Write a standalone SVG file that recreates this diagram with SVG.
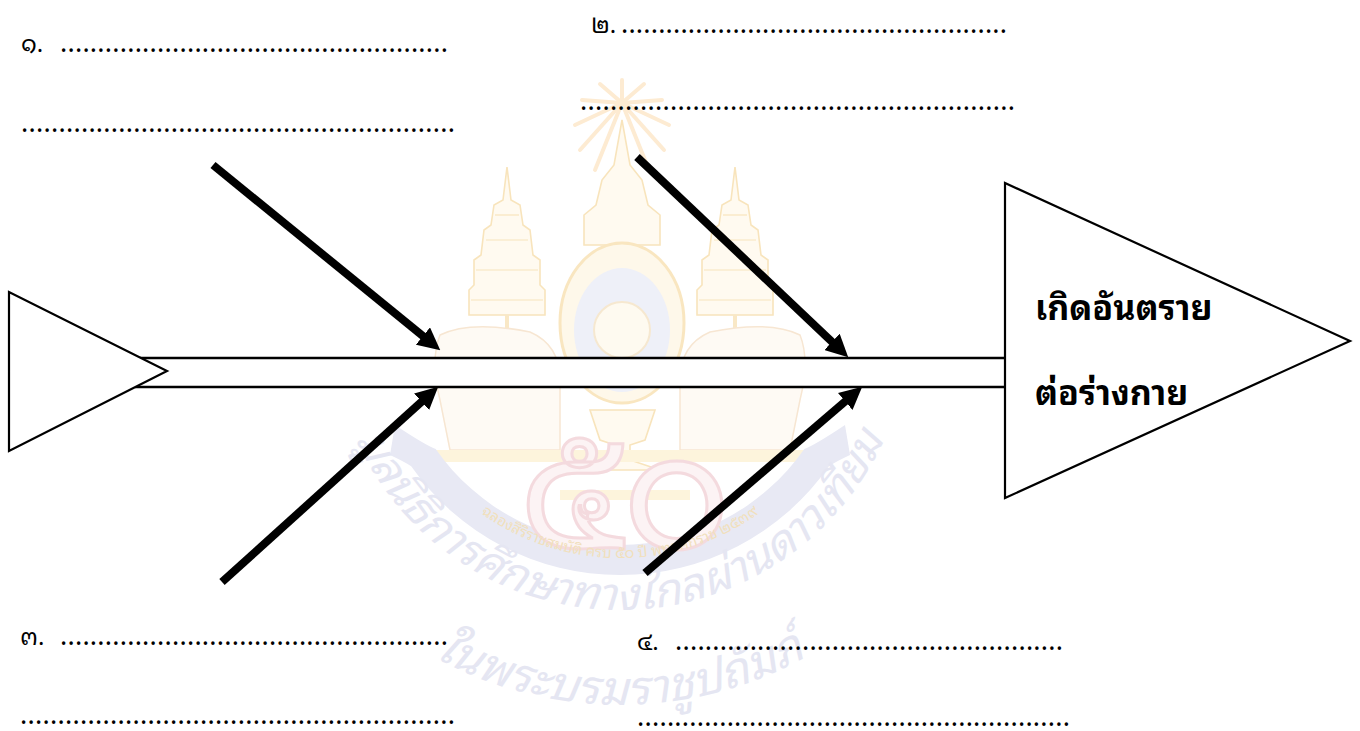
<svg xmlns="http://www.w3.org/2000/svg" xmlns:xlink="http://www.w3.org/1999/xlink" width="1360" height="731" viewBox="0 0 1360 731">
<style>
  .th { font-family: "Noto Sans Thai Looped", "Noto Serif Thai", "Leelawadee UI", Tahoma, "Noto Sans Thai", "Noto Sans", sans-serif; }
  .num { font-size: 24px; fill: #000; }
  .dots { font-size: 27px; fill: #000; }
  .title { font-size: 34px; font-weight: bold; fill: #000; }
  .shape { fill: #fff; stroke: #000; stroke-width: 2.2; }
  .bone { stroke: #000; stroke-width: 2.4; }
  .arrow { stroke: #000; stroke-width: 8; fill: none; marker-end: url(#ah); }
  .wm { fill: #e5e6f2; font-style: italic; }
  .wmy { fill: #fffaf0; stroke: #f8e4bc; stroke-width: 1.6; }
</style>
<defs>
  <marker id="ah" viewBox="0 0 10 10" refX="2" refY="5" markerWidth="2.8" markerHeight="2.8" orient="auto">
    <path d="M0,0 L10,5 L0,10 z" fill="#000"/>
  </marker>
  <path id="arc1" d="M347.5,419.2 A290,290 0 0,0 892.5,419.2"/>
  <path id="arc2" d="M399.2,635.3 A385,385 0 0,0 840.8,635.3"/>
  <path id="arc3" d="M425,456.5 A238,238 0 0,0 815,456.5"/>
</defs>

<rect width="1360" height="731" fill="#fff"/>

<g id="watermark">
  <g stroke="#fdebd2" stroke-width="4" stroke-linecap="round">
    <line x1="622" y1="103" x2="622" y2="80"/>
    <line x1="622" y1="103" x2="600" y2="84"/>
    <line x1="622" y1="103" x2="644" y2="84"/>
    <line x1="622" y1="103" x2="582" y2="100"/>
    <line x1="622" y1="103" x2="662" y2="100"/>
    <line x1="622" y1="103" x2="575" y2="125"/>
    <line x1="622" y1="103" x2="669" y2="125"/>
    <line x1="622" y1="103" x2="580" y2="150"/>
    <line x1="622" y1="103" x2="664" y2="150"/>
    <line x1="622" y1="103" x2="595" y2="170"/>
    <line x1="622" y1="103" x2="649" y2="170"/>
  </g>
  <path class="wmy" d="M507,167 L511,200 L520,205 L523,225 L530,230 L533,255 L540,260 L540,285 L545,290 L545,315 L469,315 L469,290 L474,285 L474,260 L481,255 L484,230 L491,225 L494,205 L503,200 Z"/>
  <path class="wmy" d="M735,167 L739,200 L748,205 L751,225 L758,230 L761,255 L768,260 L768,285 L773,290 L773,315 L697,315 L697,290 L702,285 L702,260 L709,255 L712,230 L719,225 L722,205 L731,200 Z"/>
  <g stroke="#f8e4bc" stroke-width="1.2">
    <line x1="476" y1="270" x2="538" y2="270"/><line x1="471" y1="300" x2="543" y2="300"/>
    <line x1="486" y1="240" x2="528" y2="240"/><line x1="495" y1="215" x2="519" y2="215"/>
    <line x1="704" y1="270" x2="766" y2="270"/><line x1="699" y1="300" x2="771" y2="300"/>
    <line x1="714" y1="240" x2="756" y2="240"/><line x1="723" y1="215" x2="747" y2="215"/>
  </g>
  <line x1="507" y1="315" x2="507" y2="345" stroke="#f9e8c6" stroke-width="4"/>
  <line x1="735" y1="315" x2="735" y2="345" stroke="#f9e8c6" stroke-width="4"/>
  <path class="wmy" d="M622,120 L630,165 L642,180 L648,205 L660,215 L660,245 L584,245 L584,215 L596,205 L602,180 L614,165 Z"/>
  <path d="M440,335 Q470,320 530,332 Q560,345 560,380 L560,450 L450,450 L440,400 Q430,360 440,335 Z" fill="#fefaf4" stroke="#f7e6d2" stroke-width="1.5"/>
  <path d="M800,335 Q770,320 710,332 Q680,345 680,380 L680,450 L790,450 L800,400 Q810,360 800,335 Z" fill="#fefaf4" stroke="#f7e6d2" stroke-width="1.5"/>
  <ellipse cx="622" cy="323" rx="62" ry="80" fill="#fef8ea" stroke="#f9e6c0" stroke-width="3"/>
  <ellipse cx="622" cy="330" rx="48" ry="62" fill="#eef0f8"/>
  <circle cx="622" cy="330" r="28" fill="#fefaf0" stroke="#f6e8d0" stroke-width="2"/>
  <path class="wmy" d="M590,410 L655,410 L645,440 L630,445 L630,460 L660,470 L585,470 L615,460 L615,445 L600,440 Z"/>
  <rect x="430" y="450" width="380" height="12" fill="#fdf4dc"/>
  <rect x="560" y="490" width="130" height="10" fill="#fdf4dc"/>
  <path d="M395,425 Q425,445 435.7,449 A225,225 0 0,0 804.3,449 Q815,445 845,425 L850,455 Q835,462 828.9,466.3 A255,255 0 0,1 411.2,466.3 Q405,462 390,455 Z" fill="#e8e9f4"/>
  <text class="th" x="625" y="548" font-size="165" text-anchor="middle" fill="#fcf3f4" stroke="#f4dade" stroke-width="3">๕๐</text>
  <text class="th" font-size="15" fill="#f1e0bc"><textPath xlink:href="#arc3" href="#arc3" startOffset="50%" text-anchor="middle">ฉลองสิริราชสมบัติ ครบ ๕๐ ปี พุทธศักราช ๒๕๓๙</textPath></text>
  <text class="th wm" font-size="45"><textPath xlink:href="#arc1" href="#arc1" startOffset="50%" text-anchor="middle">มูลนิธิการศึกษาทางไกลผ่านดาวเทียม</textPath></text>
  <text class="th wm" font-size="47"><textPath xlink:href="#arc2" href="#arc2" startOffset="50%" text-anchor="middle">ในพระบรมราชูปถัมภ์</textPath></text>
</g>

<g id="spine">
  <rect x="140" y="358" width="865" height="29" fill="#fff"/>
  <line class="bone" x1="140" y1="358" x2="1005" y2="358"/>
  <line class="bone" x1="135" y1="387" x2="1005" y2="387"/>
</g>

<g id="tail">
  <polygon class="shape" points="9,292 9,451 167,371"/>
</g>

<g id="head">
  <polygon class="shape" points="1005,183 1005,498 1350,341"/>
  <text class="th title" x="1035" y="320">เกิดอันตราย</text>
  <text class="th title" x="1035" y="405">ต่อร่างกาย</text>
</g>

<g id="connectors">
  <line class="arrow" x1="213" y1="165" x2="426.4" y2="338.9"/>
  <line class="arrow" x1="222" y1="582" x2="424.9" y2="398.8"/>
  <line class="arrow" x1="637" y1="157" x2="835.2" y2="344.9"/>
  <line class="arrow" x1="645" y1="573" x2="848.6" y2="398.5"/>
</g>

<g id="cause1">
  <text class="th num" x="21" y="52">๑.</text>
  <text class="th dots" x="60" y="52" textLength="388" lengthAdjust="spacing">....................................................</text>
  <text class="th dots" x="21" y="132" textLength="434" lengthAdjust="spacing">..........................................................</text>
</g>

<g id="cause2">
  <text class="th num" x="591" y="33">๒.</text>
  <text class="th dots" x="621" y="33" textLength="386" lengthAdjust="spacing">....................................................</text>
  <text class="th dots" x="580" y="110" textLength="435" lengthAdjust="spacing">..........................................................</text>
</g>

<g id="cause3">
  <text class="th num" x="20" y="645">๓.</text>
  <text class="th dots" x="60" y="645" textLength="388" lengthAdjust="spacing">....................................................</text>
  <text class="th dots" x="20" y="724" textLength="435" lengthAdjust="spacing">..........................................................</text>
</g>

<g id="cause4">
  <text class="th num" x="637" y="650">๔.</text>
  <text class="th dots" x="675" y="650" textLength="388" lengthAdjust="spacing">....................................................</text>
  <text class="th dots" x="637" y="726" textLength="433" lengthAdjust="spacing">..........................................................</text>
</g>
</svg>
